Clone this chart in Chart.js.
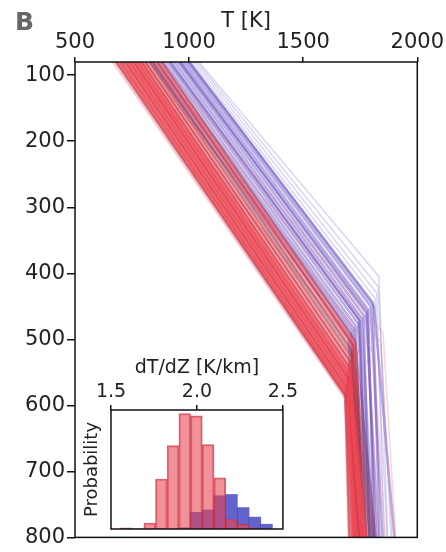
<!DOCTYPE html>
<html>
<head>
<meta charset="utf-8">
<script src="https://cdn.jsdelivr.net/npm/chart.js@4.4.1/dist/chart.umd.min.js"></script>
<style>
  body { margin: 0; background: #fff; }
  #wrap { position: relative; width: 446px; height: 552px; }
  #chart { position: absolute; left: 0; top: 0; }
  #inset { position: absolute; left: 80px; top: 345px; }
  #panel { position: absolute; left: 15px; top: 7px; font: bold 25px "DejaVu Sans"; color: #666; }
</style>
</head>
<body>
<div id="wrap">
  <canvas id="chart" width="446" height="552"></canvas>
  <canvas id="inset" width="220" height="190"></canvas>
  <div id="panel">B</div>
</div>
<script>
// axes
const tempTicks = [500, 1000, 1500, 2000];
const depthTicks = [100, 200, 300, 400, 500, 600, 700, 800];
const topDepth = 80;
const bottomDepth = 800;

// red geotherms: T at top, kink depth, T at kink, T at 800 km
const redTopT    = [665, 672, 680, 688, 696, 704, 712, 720, 728, 735, 742, 750, 757, 764, 771, 778, 785, 792, 800, 808, 816, 824, 832, 840, 850, 860, 870, 882, 740, 800, 845, 880];
const redKinkZ   = [590, 588, 586, 584, 582, 580, 577, 574, 571, 568, 565, 562, 559, 556, 553, 550, 546, 542, 538, 534, 530, 526, 522, 518, 514, 510, 506, 502, 540, 520, 505, 490];
const redKinkT   = [1683, 1685, 1686, 1688, 1689, 1690, 1691, 1692, 1693, 1694, 1695, 1696, 1697, 1698, 1699, 1700, 1701, 1702, 1704, 1706, 1708, 1710, 1712, 1714, 1717, 1720, 1724, 1728, 1790, 1810, 1840, 1850];
const redBottomT = [1698, 1712, 1702, 1725, 1708, 1735, 1718, 1745, 1722, 1750, 1728, 1758, 1732, 1765, 1738, 1772, 1742, 1780, 1748, 1788, 1752, 1795, 1758, 1802, 1762, 1810, 1770, 1818, 1835, 1860, 1890, 1905];

// blue geotherms
const blueTopT    = [830, 845, 860, 875, 890, 905, 920, 935, 950, 962, 975, 988, 1000, 1012, 1024, 1035, 1043, 915, 960, 1000];
const blueKinkZ   = [495, 490, 487, 484, 480, 476, 472, 468, 464, 460, 455, 450, 444, 438, 430, 420, 405, 470, 458, 450];
const blueKinkT   = [1700, 1708, 1715, 1722, 1730, 1740, 1748, 1756, 1765, 1775, 1785, 1795, 1805, 1815, 1822, 1828, 1832, 1745, 1780, 1810];
const blueBottomT = [1722, 1745, 1738, 1768, 1760, 1790, 1775, 1808, 1790, 1828, 1810, 1848, 1835, 1868, 1855, 1885, 1870, 1800, 1818, 1900];

// inset histogram of dT/dZ
const gradBins = [1.589, 1.657, 1.725, 1.793, 1.861, 1.929, 1.997, 2.065, 2.133, 2.201, 2.269, 2.337, 2.405];
const redProb  = [0.01, 0, 0.05, 0.42, 0.70, 0.97, 0.95, 0.71, 0.43, 0.08, 0.04, 0.01, 0];
const blueProb = [0, 0, 0, 0, 0, 0.01, 0.14, 0.16, 0.28, 0.29, 0.18, 0.10, 0.04];
const gradTicks = [1.5, 2.0, 2.5];

const FONT = 'DejaVu Sans';
const INK = '#222';

const frame = {
  id: 'frame',
  afterDraw(chart) {
    const { ctx, chartArea: a } = chart;
    ctx.save();
    ctx.strokeStyle = '#111';
    ctx.lineWidth = 1.5;
    ctx.strokeRect(a.left, a.top, a.right - a.left, a.bottom - a.top);
    ctx.restore();
  }
};

function profile(top, kz, kt, bottom) {
  return [{ x: top, y: topDepth }, { x: kt, y: kz }, { x: bottom, y: bottomDepth }];
}

const datasets = [];
redTopT.forEach((t, i) => {
  let color = 'rgba(240,72,84,0.5)', width = 5;
  if (i < 2) { color = 'rgba(240,110,125,0.3)'; width = 2; }
  else if (i % 5 === 2 || (i > 16 && i % 2 === 1)) { color = 'rgba(125,35,62,0.42)'; width = 2; }
  if (i >= 28) { color = 'rgba(240,120,140,0.3)'; width = 1.5; }
  datasets.push({
    data: profile(t, redKinkZ[i], redKinkT[i], redBottomT[i]),
    borderColor: color,
    borderWidth: width
  });
});
blueTopT.forEach((t, i) => {
  const light = t > 1000;
  datasets.push({
    data: profile(t, blueKinkZ[i], blueKinkT[i], blueBottomT[i]),
    borderColor: light ? 'rgba(130,120,215,0.3)' : 'rgba(100,70,190,0.45)',
    borderWidth: light ? 1.5 : 2.5
  });
});

new Chart(document.getElementById('chart'), {
  type: 'line',
  data: { datasets },
  plugins: [frame],
  options: {
    responsive: false,
    animation: false,
    layout: { padding: { left: 0, top: 0, right: 27, bottom: 9 } },
    plugins: { legend: { display: false }, tooltip: { enabled: false } },
    elements: { point: { radius: 0 }, line: { tension: 0 } },
    scales: {
      x: {
        type: 'linear',
        position: 'top',
        min: 500,
        max: 2000,
        afterBuildTicks: s => { s.ticks = tempTicks.map(v => ({ value: v })); },
        afterFit: s => { s.height = 62; },
        grid: { drawOnChartArea: false, tickLength: 5, color: '#111', lineWidth: 1.5 },
        border: { display: false },
        ticks: { color: INK, font: { family: FONT, size: 21 }, padding: 2, maxRotation: 0, autoSkip: false, callback: v => String(v) },
        title: { display: true, text: 'T [K]', color: INK, font: { family: FONT, size: 21 }, padding: { top: 9, bottom: 0 } }
      },
      y: {
        type: 'linear',
        reverse: true,
        min: topDepth,
        max: bottomDepth,
        afterBuildTicks: s => { s.ticks = depthTicks.map(v => ({ value: v })); },
        afterFit: s => { s.width = 75; },
        grid: { drawOnChartArea: false, tickLength: 8, color: '#111', lineWidth: 1.5 },
        border: { display: false },
        ticks: { color: INK, font: { family: FONT, size: 21 }, padding: 2, autoSkip: false, callback: v => String(v) }
      }
    }
  }
});

new Chart(document.getElementById('inset'), {
  type: 'bar',
  data: {
    datasets: [
      {
        data: gradBins.map((b, i) => ({ x: b, y: redProb[i] })),
        backgroundColor: 'rgba(232,72,85,0.6)',
        borderColor: 'rgba(205,45,60,0.75)',
        borderWidth: 1.2,
        grouped: false,
        barPercentage: 1,
        categoryPercentage: 1
      },
      {
        data: gradBins.map((b, i) => ({ x: b, y: blueProb[i] })),
        backgroundColor: 'rgba(60,60,190,0.8)',
        borderWidth: 0,
        grouped: false,
        barPercentage: 1,
        categoryPercentage: 1
      }
    ]
  },
  plugins: [frame],
  options: {
    responsive: false,
    animation: false,
    layout: { padding: { left: 0, top: 0, right: 16, bottom: 6 } },
    plugins: { legend: { display: false }, tooltip: { enabled: false } },
    scales: {
      x: {
        type: 'linear',
        position: 'top',
        offset: false,
        min: 1.5,
        max: 2.5,
        afterBuildTicks: s => { s.ticks = gradTicks.map(v => ({ value: v })); },
        afterFit: s => { s.height = 65; },
        grid: { offset: false, drawOnChartArea: false, tickLength: 5, color: '#111', lineWidth: 1.5 },
        border: { display: false },
        ticks: { color: INK, font: { family: FONT, size: 19 }, padding: 2, maxRotation: 0, autoSkip: false, callback: v => v.toFixed(1) },
        title: { display: true, text: 'dT/dZ [K/km]', color: INK, font: { family: FONT, size: 19 }, padding: { top: 12, bottom: 0 } }
      },
      y: {
        min: 0,
        max: 1,
        afterFit: s => { s.width = 31; },
        grid: { display: false },
        border: { display: false },
        ticks: { display: false },
        title: { display: true, text: 'Probability', color: INK, font: { family: FONT, size: 18 }, padding: { top: 2, bottom: 0 } }
      }
    }
  }
});
</script>
</body>
</html>
